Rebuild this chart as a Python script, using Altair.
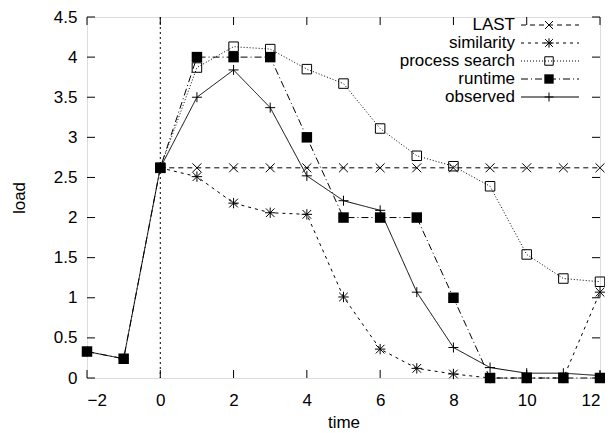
import altair as alt
import pandas as pd

# ---- data ----
x_short = list(range(0, 13))
x_long = list(range(-2, 13))

last_vals = [2.62] * 13
similarity_vals = [2.62, 2.51, 2.18, 2.06, 2.04, 1.01, 0.36, 0.12, 0.05, 0.0, 0.0, 0.0, 1.07]
process_vals = [2.62, 3.87, 4.13, 4.10, 3.85, 3.67, 3.11, 2.77, 2.64, 2.39, 1.54, 1.24, 1.20]
runtime_vals = [0.33, 0.24, 2.62, 4.0, 4.0, 4.0, 3.0, 2.0, 2.0, 2.0, 1.0, 0.0, 0.0, 0.0, 0.0]
observed_vals = [0.33, 0.24, 2.62, 3.50, 3.84, 3.37, 2.52, 2.21, 2.09, 1.07, 0.38, 0.13, 0.06, 0.06, 0.03]

series_names = ["LAST", "similarity", "process search", "runtime", "observed"]
x_ticks = [-2, 0, 2, 4, 6, 8, 10, 12]
y_ticks = [0, 0.5, 1, 1.5, 2, 2.5, 3, 3.5, 4, 4.5]

frames = []
for name, xs, ys in [
    ("LAST", x_short, last_vals),
    ("similarity", x_short, similarity_vals),
    ("process search", x_short, process_vals),
    ("runtime", x_long, runtime_vals),
    ("observed", x_long, observed_vals),
]:
    frames.append(pd.DataFrame({"x": xs, "y": ys, "series": name}))
df = pd.concat(frames, ignore_index=True)

# ---- styles ----
TOP = 9
W, H = 513, 361
FONT = "Liberation Sans"
FS = 17
X_PATH = "M-1,-1L1,1M-1,1L1,-1"
STAR_PATH = "M-1,-1L1,1M-1,1L1,-1M-1.2,0L1.2,0M0,-1.2L0,1.2"
PLUS_PATH = "M-1,0L1,0M0,-1L0,1"
styles = {
    "LAST": dict(dash=[5, 4], shape=X_PATH, filled=False, size=80),
    "similarity": dict(dash=[3, 4], shape=STAR_PATH, filled=False, size=75),
    "process search": dict(dash=[1, 2], shape="square", filled=False, size=90),
    "runtime": dict(dash=[7, 3, 1, 3], shape="square", filled=True, size=110),
    "observed": dict(dash=[1, 0], shape=PLUS_PATH, filled=False, size=100),
}

xscale = alt.Scale(domain=[-2, 12], nice=False, zero=False)
yscale = alt.Scale(domain=[0, 4.5], nice=False)
xaxis = alt.Axis(values=x_ticks, ticks=False, domain=False, grid=False, title="time",
                 labelFont=FONT, labelFontSize=FS, labelPadding=14, titleFont=FONT,
                 titleFontSize=FS, titleFontWeight="normal", titlePadding=6, format="~g")
yaxis = alt.Axis(values=y_ticks, ticks=False, domain=False, grid=False, title="load",
                 labelFont=FONT, labelFontSize=FS, labelPadding=10, titleFont=FONT,
                 titleFontSize=FS, titleFontWeight="normal", titlePadding=25, format="~g")


def X(f="x"):
    return alt.X(f"{f}:Q", scale=xscale, axis=xaxis)


def Y(f="y"):
    return alt.Y(f"{f}:Q", scale=yscale, axis=yaxis)


layers = []

# dotted vertical line at x = 0
layers.append(
    alt.Chart(pd.DataFrame({"x": [0]})).mark_rule(color="black", strokeWidth=1, strokeDash=[2, 3])
    .encode(x=X())
)

# inward ticks on all four sides
xt = pd.DataFrame({"x": x_ticks})
yt = pd.DataFrame({"y": y_ticks})
layers.append(alt.Chart(xt).mark_rule(color="black").encode(x=X(), y=alt.value(H), y2=alt.value(H - 8)))
layers.append(alt.Chart(xt).mark_rule(color="black").encode(x=X(), y=alt.value(0), y2=alt.value(8)))
layers.append(alt.Chart(yt).mark_rule(color="black").encode(y=Y(), x=alt.value(0), x2=alt.value(8)))
layers.append(alt.Chart(yt).mark_rule(color="black").encode(y=Y(), x=alt.value(W), x2=alt.value(W - 8)))

# series
for name in series_names:
    st = styles[name]
    base = alt.Chart(df).transform_filter(alt.datum.series == name)
    layers.append(base.mark_line(color="black", strokeWidth=1, strokeDash=st["dash"]).encode(x=X(), y=Y()))
    layers.append(
        base.mark_point(shape=st["shape"], filled=st["filled"], size=st["size"], color="black",
                        strokeWidth=1, opacity=1)
        .encode(x=X(), y=Y())
    )

# legend (top right, gnuplot style)
one = pd.DataFrame({"a": [0]})
for i, name in enumerate(series_names):
    st = styles[name]
    yy = 17 - TOP + 18 * i
    layers.append(alt.Chart(one).mark_text(align="right", baseline="middle", font=FONT, fontSize=FS,
                                          color="black")
                  .encode(x=alt.value(428), y=alt.value(yy), text=alt.value(name)))
    layers.append(alt.Chart(one).mark_rule(color="black", strokeWidth=1, strokeDash=st["dash"])
                  .encode(x=alt.value(434), x2=alt.value(492), y=alt.value(yy)))
    layers.append(alt.Chart(one).mark_point(shape=st["shape"], filled=st["filled"], size=st["size"] * 0.8,
                                           color="black", strokeWidth=1, opacity=1)
                  .encode(x=alt.value(462), y=alt.value(yy)))

chart = alt.layer(*layers).properties(
    width=W, height=H,
    autosize=alt.AutoSizeParams(type="none"),
    padding={"left": 79, "top": TOP, "right": 5, "bottom": 55},
).configure_view(stroke="black", strokeWidth=1).configure(background="white")

chart.save("out.html", embed_options={"renderer": "svg", "actions": False})
